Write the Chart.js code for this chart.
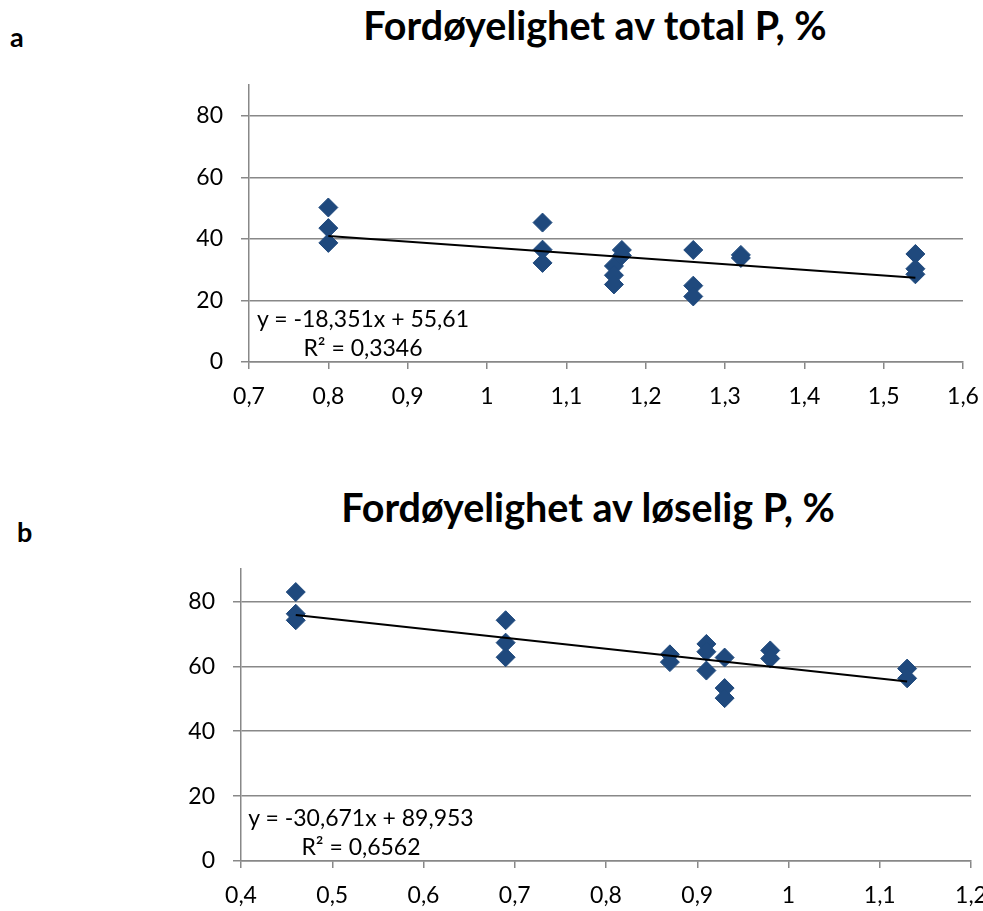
<!DOCTYPE html>
<html><head><meta charset="utf-8">
<script src="https://cdn.jsdelivr.net/npm/chart.js@4.4.1/dist/chart.umd.min.js"></script>
<style>
html,body{margin:0;padding:0;background:#fff;width:983px;height:911px;overflow:hidden;position:relative;font-family:Lato,sans-serif;}
.abs{position:absolute;white-space:nowrap;color:#000;line-height:1.2;}
.title{font-weight:bold;font-size:39.5px;transform:translateX(-50%);}
.lab{font-weight:bold;font-size:27px;}
.eq{font-size:23px;line-height:29px;text-align:center;transform:translateX(-50%);}
.wrap{position:absolute;left:0;width:1010px;}
</style></head>
<body>
<div class="abs lab" style="left:10px;top:21px;">a</div>
<div class="abs title" style="left:595px;top:1px;">Fordøyelighet av total P, %</div>
<div class="wrap" style="top:0;height:430px;"><canvas id="cA" width="1010" height="430"></canvas></div>
<div class="abs eq" style="left:363px;top:304px;">y = -18,351x + 55,61<br>R² = 0,3346</div>

<div class="abs lab" style="left:17px;top:516px;">b</div>
<div class="abs title" style="left:588px;top:483px;">Fordøyelighet av løselig P, %</div>
<div class="wrap" style="top:450px;height:461px;"><canvas id="cB" width="1010" height="461"></canvas></div>
<div class="abs eq" style="left:361px;top:803px;">y = -30,671x + 89,953<br>R² = 0,6562</div>

<script>
// ---- data (a) ----
const xA = [0.8,0.8,0.8, 1.07,1.07,1.07, 1.16,1.16,1.16, 1.17,1.17, 1.26,1.26,1.26, 1.32,1.32, 1.54,1.54,1.54];
const yA = [50.2,43.5,38.7, 45.3,36.5,32.2, 31.2,28.2,25.2, 36.4,34.6, 36.4,24.8,21.3, 34.8,33.8, 35.1,30.3,28.5];
const trendXA = [0.8, 1.54];
const trendYA = [40.93, 27.35];
const xTickValsA = [0.7,0.8,0.9,1.0,1.1,1.2,1.3,1.4,1.5,1.6];
const xTickLabsA = ['0,7','0,8','0,9','1','1,1','1,2','1,3','1,4','1,5','1,6'];
// ---- data (b) ----
const xB = [0.46,0.46,0.46, 0.69,0.69,0.69, 0.87,0.87, 0.91,0.91,0.91, 0.93,0.93,0.93, 0.98,0.98, 1.13,1.13];
const yB = [82.9,76.2,74.2, 74.2,67.3,62.8, 63.7,61.3, 66.9,64.5,58.7, 62.7,53.3,50.2, 64.9,62.4, 59.3,56.3];
const trendXB = [0.46, 1.13];
const trendYB = [75.84, 55.29];
const xTickValsB = [0.4,0.5,0.6,0.7,0.8,0.9,1.0,1.1,1.2];
const xTickLabsB = ['0,4','0,5','0,6','0,7','0,8','0,9','1','1,1','1,2'];
// ---- shared y ticks ----
const yTickVals = [0,20,40,60,80];
const yTickLabs = ['0','20','40','60','80'];

const GRID = '#888888';
const MARK = '#1F497D';

function makeChart(id, xs, ys, tx, ty, xv, xl, pad) {
  const pts = xs.map((x, i) => ({x: x, y: ys[i]}));
  const tr = tx.map((x, i) => ({x: x, y: ty[i]}));
  return new Chart(document.getElementById(id), {
    type: 'scatter',
    data: {datasets: [
      {data: tr, showLine: true, borderColor: '#000', borderWidth: 2, pointRadius: 0, order: 0, fill: false},
      {data: pts, pointStyle: 'rectRot', pointRadius: 9.5, backgroundColor: MARK, borderColor: MARK, borderWidth: 1, order: 1}
    ]},
    options: {
      responsive: false, animation: false, devicePixelRatio: 1,
      layout: {padding: pad},
      plugins: {legend: {display: false}, tooltip: {enabled: false}},
      scales: {
        x: {
          type: 'linear', position: 'bottom', min: xv[0], max: xv[xv.length - 1],
          afterBuildTicks: s => { s.ticks = xv.map(v => ({value: v})); },
          afterFit: s => { s.height = 50; },
          grid: {drawOnChartArea: false, drawTicks: true, tickLength: 7, color: GRID, lineWidth: 1.5},
          border: {display: true, color: GRID, width: 1.5},
          ticks: {autoSkip: false, maxRotation: 0, color: '#000', padding: 14,
                  font: {family: 'Lato', size: 23}, callback: (v, i) => xl[i]}
        },
        y: {
          type: 'linear', min: 0, max: 90,
          afterBuildTicks: s => { s.ticks = yTickVals.map(v => ({value: v})); },
          afterFit: s => { s.width = 60; },
          grid: {drawTicks: true, tickLength: 8, color: GRID, lineWidth: 1.5},
          border: {display: true, color: GRID, width: 1.5},
          ticks: {color: '#000', padding: 18, font: {family: 'Lato', size: 23},
                  callback: (v, i) => yTickLabs[i]}
        }
      }
    }
  });
}

makeChart('cA', xA, yA, trendXA, trendYA, xTickValsA, xTickLabsA, {left: 189, right: 47, top: 85, bottom: 18});
makeChart('cB', xB, yB, trendXB, trendYB, xTickValsB, xTickLabsB, {left: 181, right: 39, top: 119, bottom: 0});
</script>
</body></html>
